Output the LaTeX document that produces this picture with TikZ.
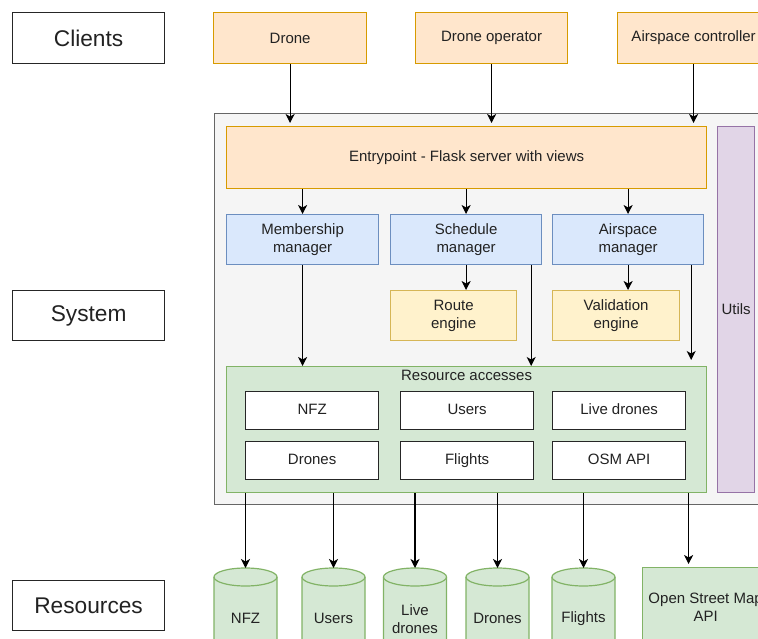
\documentclass[tikz,border=0pt]{standalone}
\usepackage{fontspec}
\setmainfont{Liberation Sans}
\usetikzlibrary{arrows.meta,calc}

\definecolor{txt}{HTML}{222222}
\definecolor{orfill}{HTML}{FFE6CC}\definecolor{orline}{HTML}{D79B00}
\definecolor{blfill}{HTML}{DAE8FC}\definecolor{blline}{HTML}{6C8EBF}
\definecolor{yefill}{HTML}{FFF2CC}\definecolor{yeline}{HTML}{D6B656}
\definecolor{grfill}{HTML}{D5E8D4}\definecolor{grline}{HTML}{82B366}
\definecolor{pufill}{HTML}{E1D5E7}\definecolor{puline}{HTML}{9673A6}
\definecolor{gyfill}{HTML}{F5F5F5}\definecolor{gyline}{HTML}{666666}

\newcommand{\mainsize}{\fontsize{15}{18}\selectfont}
\newcommand{\bigsize}{\fontsize{22.7}{27}\selectfont}

% database cylinder: name, centre x, label
\newcommand{\dbcyl}[3]{%
  \draw[cylline] (#2-31.5,577) arc[start angle=180,end angle=0,x radius=31.5pt,y radius=9pt]
     -- (#2+31.5,660) arc[start angle=0,end angle=-180,x radius=31.5pt,y radius=9pt] -- cycle;
  \draw[cylline,fill=none] (#2-31.5,577) arc[start angle=180,end angle=360,x radius=31.5pt,y radius=9pt];
  \node[cylnode] (#1) at (#2,568) {#3};
}

\tikzset{
  sz/.style 2 args={minimum width=#1pt, minimum height=#2pt},
  box/.style={draw, line width=1.2pt, inner sep=0pt, align=center, anchor=north west,
              font=\mainsize, text=txt},
  tag/.style={box, fill=white, draw=black!85, font=\bigsize},
  client/.style={box, fill=orfill, draw=orline},
  manager/.style={box, fill=blfill, draw=blline},
  engine/.style={box, fill=yefill, draw=yeline},
  access/.style={box, fill=white, draw=black!85, text height=10.8pt, text depth=3.2pt},
  cylline/.style={draw=grline, fill=grfill, line width=1.2pt},
  cylnode/.style={anchor=north, minimum width=63pt, minimum height=101pt, inner sep=0pt,
                  align=center, font=\mainsize, text=txt},
  arr/.style={draw=black, line width=1.1pt, -{Stealth[length=9pt,width=9pt,inset=2.5pt]}},
}

\begin{document}
\begin{tikzpicture}[x=1pt,y=-1pt]
  \clip (0,0) rectangle (758,639);
  \fill[white] (0,0) rectangle (758,639);

  % tier labels
  \node[tag, sz={152}{51}] (lclients) at (12,12) {Clients};
  \node[tag, sz={152}{50}] (lsystem) at (12,290) {System};
  \node[tag, sz={152}{50}] (lres) at (12,580) {Resources};

  % clients
  \node[client, sz={153}{51}] (drone) at (213,12) {Drone};
  \node[client, sz={152}{51}] (oper) at (415,12) {Drone operator};
  \node[client, sz={152}{51}] (actrl) at (617,12) {Airspace controller};

  % system container
  \node[box, fill=gyfill, draw=gyline, sz={600}{391}] (sys) at (214,113) {};
  \node[client, sz={480}{62}] (entry) at (226,126) {Entrypoint - Flask server with views};
  \node[box, fill=pufill, draw=puline, sz={37}{366}] (utils) at (717,126) {Utils};

  \node[manager, sz={152}{50}] (memb) at (226,214) {Membership\\manager};
  \node[manager, sz={151}{50}] (sched) at (390,214) {Schedule\\manager};
  \node[manager, sz={151}{50}] (aspm) at (552,214) {Airspace\\manager};

  \node[engine, sz={126}{50}] (route) at (390,290) {Route\\engine};
  \node[engine, sz={127}{50}] (valid) at (552,290) {Validation\\engine};

  \node[box, fill=grfill, draw=grline, sz={480}{126},
        label={[font=\mainsize, text=txt, anchor=north, inner sep=0pt, yshift=-4pt]north:Resource accesses}]
        (resacc) at (226,366) {};
  \node[access, sz={133}{38}] (aNFZ) at (245,391) {NFZ};
  \node[access, sz={133}{38}] (aUsers) at (400,391) {Users};
  \node[access, sz={133}{38}] (aLive) at (552,391) {Live drones};
  \node[access, sz={133}{38}] (aDrones) at (245,441) {Drones};
  \node[access, sz={133}{38}] (aFlights) at (400,441) {Flights};
  \node[access, sz={133}{38}] (aOSM) at (552,441) {OSM API};

  % resources
  \dbcyl{cNFZ}{245.5}{NFZ}
  \dbcyl{cUsers}{333.5}{Users}
  \dbcyl{cLive}{415}{Live\\drones}
  \dbcyl{cDrones}{497.5}{Drones}
  \dbcyl{cFlights}{583.5}{Flights}
  \node[box, fill=grfill, draw=grline, sz={126}{80}] (osm) at (642,567) {Open Street Map\\API};

  % clients into the entrypoint
  \draw[arr, shorten >=3pt] (drone.south) -- (drone.south |- entry.north);
  \draw[arr, shorten >=3pt] (oper.south) -- (oper.south |- entry.north);
  \draw[arr, shorten >=3pt] (actrl.south) -- (actrl.south |- entry.north);

  % entrypoint to managers
  \draw[arr] (memb.north |- entry.south) -- (memb.north);
  \draw[arr] (sched.north |- entry.south) -- (sched.north);
  \draw[arr] (aspm.north |- entry.south) -- (aspm.north);

  % managers to engines
  \draw[arr] (sched.south) -- (sched.south |- route.north);
  \draw[arr] (aspm.south) -- (aspm.south |- valid.north);

  % managers to resource accesses
  \coordinate (schout) at ([xshift=-11pt]sched.south east);
  \coordinate (aspout) at ([xshift=-13pt]aspm.south east);
  \draw[arr] (memb.south) -- (memb.south |- resacc.north);
  \draw[arr] (schout) -- (schout |- resacc.north);
  \draw[arr, shorten >=6pt] (aspout) -- (aspout |- resacc.north);

  % resource accesses to resources
  \draw[arr] (resacc.south -| cNFZ.north) -- (cNFZ.north);
  \draw[arr] (resacc.south -| cUsers.north) -- (cUsers.north);
  \draw[arr] (resacc.south -| cLive.north) -- (cLive.north);
  \draw[arr] (resacc.south -| cDrones.north) -- (cDrones.north);
  \draw[arr] (resacc.south -| cFlights.north) -- (cFlights.north);
  \coordinate (osmin) at ([xshift=-17pt]osm.north);
  \draw[arr, shorten >=3pt] (resacc.south -| osmin) -- (osmin);
\end{tikzpicture}
\end{document}
